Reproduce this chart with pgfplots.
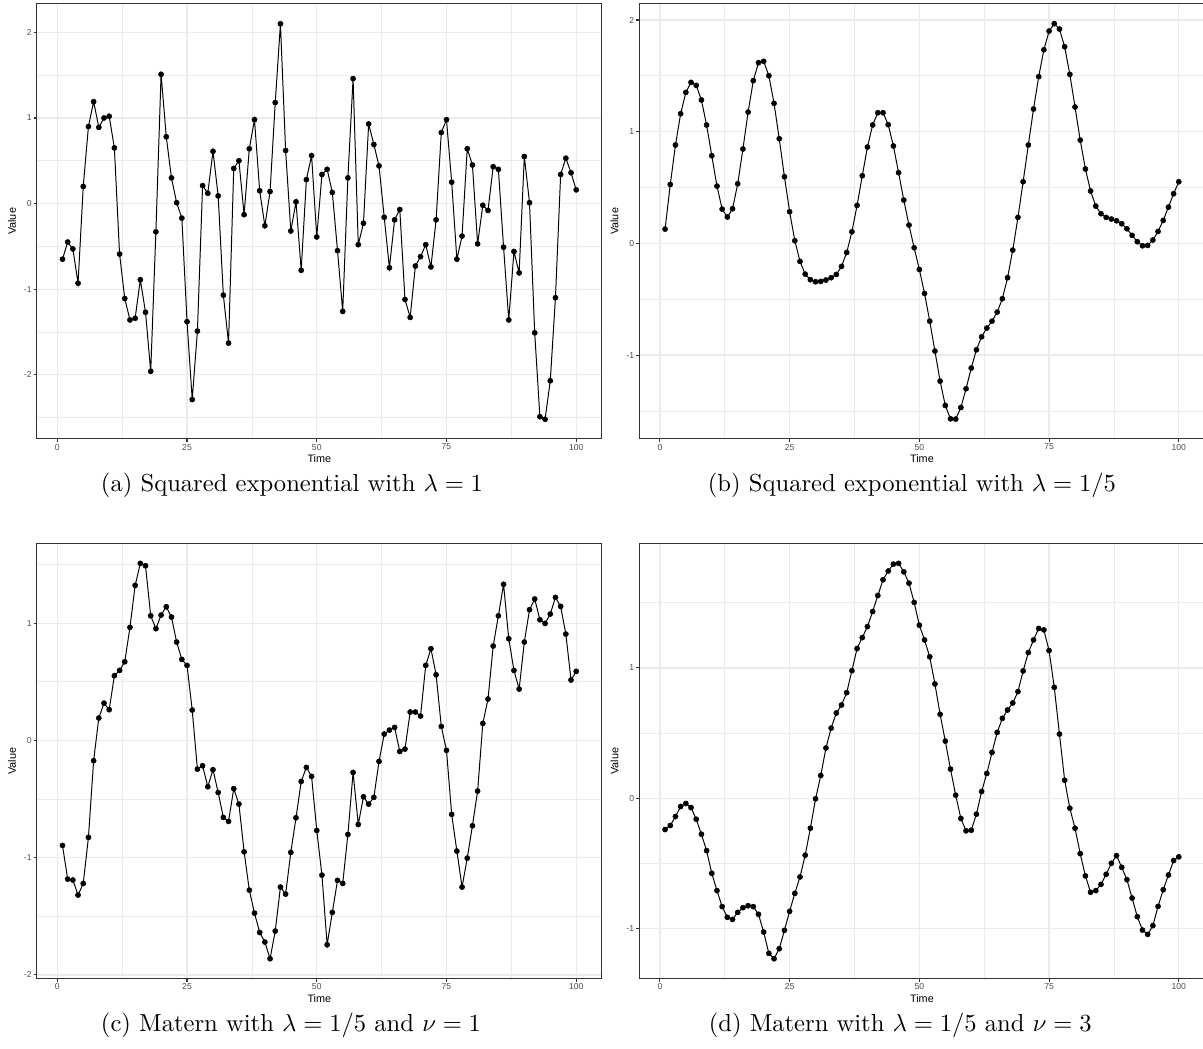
\documentclass[border=0pt]{standalone}
\usepackage{fontspec}
\usepackage{pgfplots}
\pgfplotsset{compat=1.18}
\newfontfamily\axisfont{Liberation Sans}
\definecolor{gridgrey}{HTML}{EBEBEB}
\definecolor{bordergrey}{HTML}{333333}
\definecolor{ticktext}{HTML}{4D4D4D}

\pgfplotsset{
  ggpanel/.style={
    scale only axis, width=229.7pt, height=176.8pt,
    xmin=-3.95, xmax=104.95,
    xtick={0,25,50,75,100},
    xticklabels={0,25,50,75,100},
    minor xtick={12.5,37.5,62.5,87.5},
    grid=both,
    major grid style={gridgrey, line width=0.5pt},
    minor grid style={gridgrey, line width=0.3pt},
    axis line style={bordergrey, line width=0.45pt},
    tick align=outside,
    major tick length=1.3pt, minor tick length=0pt,
    tick style={bordergrey, line width=0.45pt},
    xtick pos=left, ytick pos=left,
    tick label style={font=\axisfont\fontsize{3.5pt}{4pt}\selectfont, text=ticktext, inner sep=0.6pt},
    label style={font=\axisfont\fontsize{4.4pt}{5pt}\selectfont, text=black},
    xlabel={Time}, ylabel={Value},
    xlabel style={at={(axis description cs:0.5,-0.046)}, anchor=center},
    ylabel style={at={(axis description cs:-0.044,0.5)}, anchor=center},
  },
  ggline/.style={black, line width=0.4pt, mark=*, mark size=1.05pt,
    mark options={fill=black, draw=black, line width=0.2pt}},
}

\begin{document}
\begin{tikzpicture}
\path[use as bounding box] (0pt,0pt) rectangle (489pt,426pt);

% (a) squared exponential, lambda = 1
\begin{axis}[ggpanel, at={(14.96pt,247.6pt)}, anchor=south west,
  ymin=-2.749, ymax=2.332,
  ytick={-2,-1,0,1,2}, yticklabels={-2,-1,0,1,2},
  minor ytick={-2.5,-1.5,-0.5,0.5,1.5}]
\addplot[ggline] coordinates {
(1,-0.65) (2,-0.45) (3,-0.53) (4,-0.93) (5,0.20) (6,0.90) (7,1.19) (8,0.89) (9,1.00) (10,1.02)
(11,0.65) (12,-0.59) (13,-1.11) (14,-1.36) (15,-1.34) (16,-0.89) (17,-1.27) (18,-1.96) (19,-0.33) (20,1.51)
(21,0.78) (22,0.30) (23,0.01) (24,-0.17) (25,-1.38) (26,-2.29) (27,-1.49) (28,0.21) (29,0.12) (30,0.61)
(31,0.09) (32,-1.07) (33,-1.63) (34,0.41) (35,0.50) (36,-0.13) (37,0.64) (38,0.98) (39,0.15) (40,-0.26)
(41,0.14) (42,1.18) (43,2.10) (44,0.62) (45,-0.32) (46,0.02) (47,-0.78) (48,0.28) (49,0.56) (50,-0.39)
(51,0.34) (52,0.40) (53,0.13) (54,-0.55) (55,-1.26) (56,0.30) (57,1.46) (58,-0.48) (59,-0.23) (60,0.93)
(61,0.69) (62,0.44) (63,-0.16) (64,-0.75) (65,-0.19) (66,-0.07) (67,-1.12) (68,-1.33) (69,-0.73) (70,-0.62)
(71,-0.48) (72,-0.74) (73,-0.19) (74,0.83) (75,0.98) (76,0.25) (77,-0.65) (78,-0.38) (79,0.64) (80,0.45)
(81,-0.47) (82,-0.02) (83,-0.08) (84,0.43) (85,0.40) (86,-0.51) (87,-1.36) (88,-0.56) (89,-0.81) (90,0.55)
(91,0.01) (92,-1.51) (93,-2.49) (94,-2.52) (95,-2.07) (96,-1.10) (97,0.34) (98,0.53) (99,0.36) (100,0.16)
};
\end{axis}

% (b) squared exponential, lambda = 1/5
\begin{axis}[ggpanel, at={(259.9pt,247.6pt)}, anchor=south west,
  ymin=-1.75, ymax=2.144,
  ytick={-1,0,1,2}, yticklabels={-1,0,1,2},
  minor ytick={-1.5,-0.5,0.5,1.5}]
\addplot[ggline] coordinates {
(1,0.128) (2,0.528) (3,0.881) (4,1.161) (5,1.352) (6,1.442) (7,1.415) (8,1.284) (9,1.060) (10,0.785)
(11,0.513) (12,0.307) (13,0.236) (14,0.310) (15,0.534) (16,0.845) (17,1.176) (18,1.457) (19,1.618) (20,1.630)
(21,1.501) (22,1.254) (23,0.937) (24,0.597) (25,0.284) (26,0.024) (27,-0.161) (28,-0.275) (29,-0.325) (30,-0.343)
(31,-0.340) (32,-0.328) (33,-0.307) (34,-0.278) (35,-0.206) (36,-0.081) (37,0.104) (38,0.340) (39,0.606) (40,0.863)
(41,1.060) (42,1.170) (43,1.170) (44,1.063) (45,0.872) (46,0.633) (47,0.388) (48,0.164) (49,-0.039) (50,-0.233)
(51,-0.448) (52,-0.696) (53,-0.964) (54,-1.233) (55,-1.451) (56,-1.570) (57,-1.573) (58,-1.469) (59,-1.301) (60,-1.116)
(61,-0.952) (62,-0.836) (63,-0.758) (64,-0.696) (65,-0.615) (66,-0.495) (67,-0.307) (68,-0.060) (69,0.233) (70,0.552)
(71,0.881) (72,1.203) (73,1.493) (74,1.734) (75,1.901) (76,1.967) (77,1.919) (78,1.761) (79,1.513) (80,1.221)
(81,0.925) (82,0.666) (83,0.469) (84,0.334) (85,0.266) (86,0.233) (87,0.218) (88,0.203) (89,0.176) (90,0.131)
(91,0.072) (92,0.015) (93,-0.021) (94,-0.018) (95,0.030) (96,0.107) (97,0.206) (98,0.325) (99,0.445) (100,0.552)
};
\end{axis}

% (c) Matern, lambda = 1/5, nu = 1
\begin{axis}[ggpanel, at={(14.96pt,28.25pt)}, anchor=south west,
  ymin=-2.031, ymax=1.679,
  ytick={-2,-1,0,1}, yticklabels={-2,-1,0,1},
  minor ytick={-1.5,-0.5,0.5,1.5}]
\addplot[ggline] coordinates {
(1,-0.896) (2,-1.183) (3,-1.191) (4,-1.319) (5,-1.220) (6,-0.827) (7,-0.173) (8,0.191) (9,0.318) (10,0.262)
(11,0.552) (12,0.597) (13,0.671) (14,0.964) (15,1.322) (16,1.510) (17,1.490) (18,1.063) (19,0.953) (20,1.069)
(21,1.140) (22,1.052) (23,0.839) (24,0.691) (25,0.640) (26,0.259) (27,-0.245) (28,-0.216) (29,-0.395) (30,-0.250)
(31,-0.444) (32,-0.657) (33,-0.691) (34,-0.412) (35,-0.543) (36,-0.950) (37,-1.277) (38,-1.473) (39,-1.638) (40,-1.720)
(41,-1.862) (42,-1.626) (43,-1.251) (44,-1.311) (45,-0.955) (46,-0.660) (47,-0.350) (48,-0.230) (49,-0.307) (50,-0.768)
(51,-1.149) (52,-1.743) (53,-1.467) (54,-1.194) (55,-1.220) (56,-0.802) (57,-0.273) (58,-0.717) (59,-0.481) (60,-0.543)
(61,-0.486) (62,-0.179) (63,0.054) (64,0.088) (65,0.111) (66,-0.094) (67,-0.074) (68,0.242) (69,0.242) (70,0.208)
(71,0.640) (72,0.782) (73,0.560) (74,0.119) (75,-0.085) (76,-0.631) (77,-0.944) (78,-1.251) (79,-1.004) (80,-0.728)
(81,-0.432) (82,0.145) (83,0.353) (84,0.805) (85,1.063) (86,1.331) (87,0.867) (88,0.597) (89,0.438) (90,0.839)
(91,1.115) (92,1.206) (93,1.029) (94,0.998) (95,1.078) (96,1.220) (97,1.143) (98,0.907) (99,0.515) (100,0.589)
};
\end{axis}

% (d) Matern, lambda = 1/5, nu = 3
\begin{axis}[ggpanel, at={(259.9pt,28.25pt)}, anchor=south west,
  ymin=-1.385, ymax=1.955,
  ytick={-1,0,1}, yticklabels={-1,0,1},
  minor ytick={-0.5,0.5,1.5}]
\addplot[ggline] coordinates {
(1,-0.241) (2,-0.210) (3,-0.141) (4,-0.064) (5,-0.041) (6,-0.072) (7,-0.162) (8,-0.277) (9,-0.403) (10,-0.577)
(11,-0.710) (12,-0.833) (13,-0.915) (14,-0.931) (15,-0.877) (16,-0.841) (17,-0.826) (18,-0.833) (19,-0.892) (20,-1.028)
(21,-1.192) (22,-1.233) (23,-1.156) (24,-1.015) (25,-0.869) (26,-0.731) (27,-0.605) (28,-0.438) (29,-0.231) (30,-0.005)
(31,0.174) (32,0.385) (33,0.538) (34,0.654) (35,0.715) (36,0.810) (37,0.979) (38,1.149) (39,1.233) (40,1.318)
(41,1.433) (42,1.556) (43,1.677) (44,1.744) (45,1.797) (46,1.803) (47,1.738) (48,1.651) (49,1.503) (50,1.328)
(51,1.215) (52,1.085) (53,0.877) (54,0.644) (55,0.438) (56,0.223) (57,0.023) (58,-0.156) (59,-0.251) (60,-0.246)
(61,-0.123) (62,0.051) (63,0.190) (64,0.351) (65,0.505) (66,0.613) (67,0.677) (68,0.731) (69,0.818) (70,0.977)
(71,1.118) (72,1.215) (73,1.303) (74,1.292) (75,1.133) (76,0.851) (77,0.492) (78,0.138) (79,-0.077) (80,-0.231)
(81,-0.426) (82,-0.597) (83,-0.723) (84,-0.710) (85,-0.662) (86,-0.585) (87,-0.500) (88,-0.441) (89,-0.531) (90,-0.626)
(91,-0.767) (92,-0.910) (93,-1.013) (94,-1.046) (95,-0.979) (96,-0.831) (97,-0.703) (98,-0.590) (99,-0.479) (100,-0.451)
};
\end{axis}

% sub-captions
\node[anchor=center] at (118.7pt,228.9pt) {(a) Squared exponential with $\lambda = 1$};
\node[anchor=center] at (370.7pt,228.9pt) {(b) Squared exponential with $\lambda = 1/5$};
\node[anchor=center] at (118.3pt,9.35pt) {(c) Matern with $\lambda = 1/5$ and $\nu = 1$};
\node[anchor=center] at (365.9pt,9.35pt) {(d) Matern with $\lambda = 1/5$ and $\nu = 3$};
\end{tikzpicture}
\end{document}
